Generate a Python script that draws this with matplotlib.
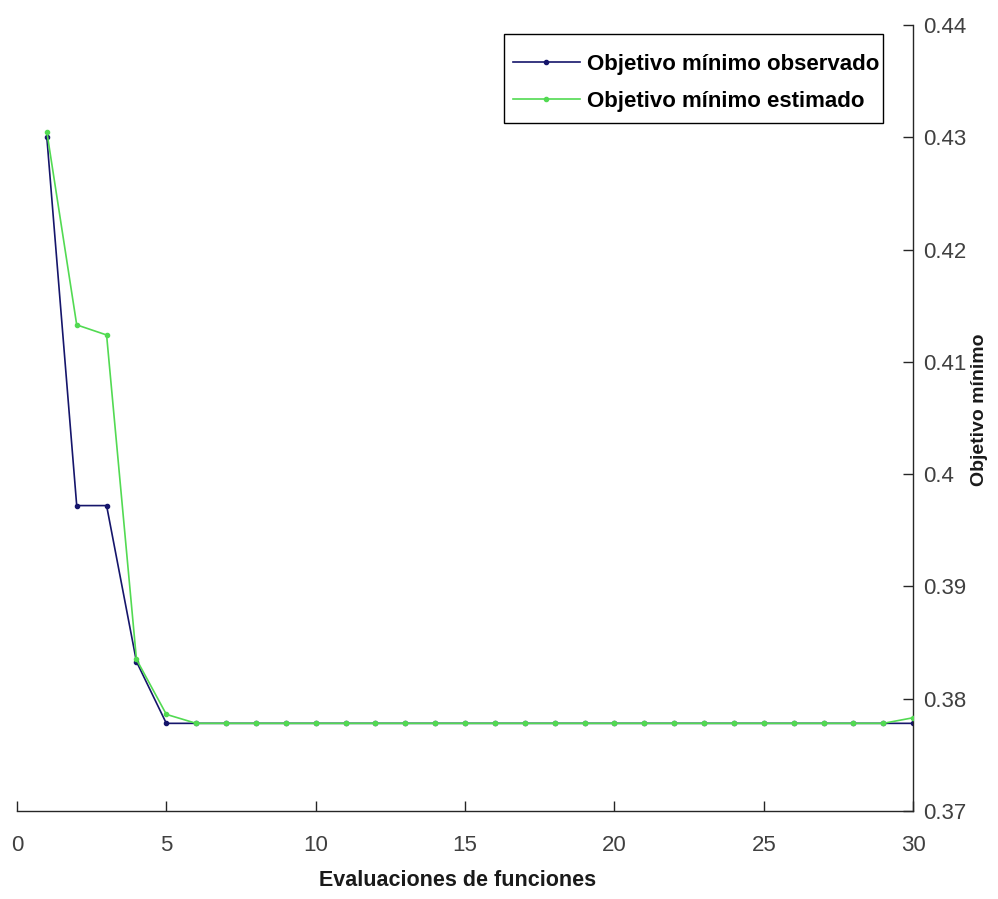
import numpy as np
import matplotlib
matplotlib.use("Agg")
import matplotlib.pyplot as plt
from matplotlib.patches import Rectangle

# --- data ---
evals = list(range(1, 31))
observed = [0.4300, 0.3972, 0.3972, 0.3833, 0.3778] + [0.3778] * 25
estimated = [0.4305, 0.4133, 0.4124, 0.3835, 0.3786] + [0.3778] * 24 + [0.3783]

x_ticks = [0, 5, 10, 15, 20, 25, 30]
y_ticks = [0.37, 0.38, 0.39, 0.40, 0.41, 0.42, 0.43, 0.44]
y_tick_labels = ["0.37", "0.38", "0.39", "0.4", "0.41", "0.42", "0.43", "0.44"]

NAVY = "#15156b"
GREEN = "#52da52"
TICK_GRAY = "#404040"
W, H = 998, 899

plt.rcParams["font.family"] = ["Liberation Sans", "DejaVu Sans"]

fig = plt.figure(figsize=(W / 100, H / 100), dpi=100)
ax = fig.add_axes([0.017, 0.098, 0.898, 0.874])

ax.plot(evals, observed, color=NAVY, linewidth=1.2, marker=".", markersize=6,
        label="Objetivo mínimo observado", zorder=2)
ax.plot(evals, estimated, color=GREEN, linewidth=1.2, marker=".", markersize=6,
        label="Objetivo mínimo estimado", zorder=3)

ax.set_xlim(0, 30)
ax.set_ylim(0.37, 0.44)
ax.set_xticks(x_ticks)
ax.set_yticks(y_ticks)
ax.set_yticklabels(y_tick_labels)

# MATLAB-like: box off, y axis on the right
ax.spines["top"].set_visible(False)
ax.spines["left"].set_visible(False)
for s in ("bottom", "right"):
    ax.spines[s].set_linewidth(1.0)
    ax.spines[s].set_color("#262626")
ax.yaxis.tick_right()
ax.tick_params(axis="both", direction="in", length=7, width=1.0,
               labelsize=16, labelcolor=TICK_GRAY, color="#262626")
ax.tick_params(axis="x", pad=17)
ax.tick_params(axis="y", pad=7)

# axis titles placed where the reference has them
fig.text(458 / W, 1 - 881 / H, "Evaluaciones de funciones", fontsize=15.5,
         fontweight="bold", color="#1a1a1a", ha="center", va="center")
fig.text(980 / W, 1 - 410 / H, "Objetivo mínimo", fontsize=14,
         fontweight="bold", color="#1a1a1a", ha="center", va="center",
         rotation=90)

# legend without its own frame; box drawn separately (MATLAB padding)
leg = fig.legend(loc="upper left", bbox_to_anchor=(513 / W, 1 - 54 / H),
                 fontsize=16, frameon=False, handlelength=3.0, borderpad=0,
                 labelspacing=0.72, handletextpad=0.35, borderaxespad=0)
for t in leg.get_texts():
    t.set_fontweight("bold")
fig.patches.append(Rectangle((504 / W, 1 - 123 / H), 379 / W, 89 / H,
                             transform=fig.transFigure, fill=False,
                             edgecolor="#000000", linewidth=1.0))

fig.savefig("out.png", dpi=100, facecolor="white")
